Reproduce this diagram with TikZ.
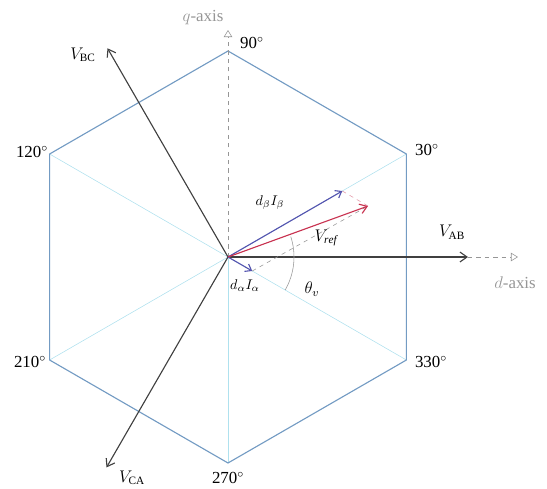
\documentclass[tikz,border=0pt]{standalone}
\usepackage{amsmath,amssymb}
\usepackage{fontspec}
\setmainfont{Liberation Serif}
\usetikzlibrary{arrows.meta}

\definecolor{hexblue}{RGB}{115,155,195}
\definecolor{spoke}{RGB}{175,225,238}
\definecolor{axisgray}{RGB}{150,150,150}
\definecolor{refred}{RGB}{200,50,80}
\definecolor{dvec}{RGB}{85,85,175}

\tikzset{
  vec/.style={draw=black!75, thick, -{Straight Barb[length=5pt,width=7pt]}},
  axisline/.style={draw=axisgray, dashed, -{Triangle[open,length=5pt,width=6pt]}},
  lbl/.style={inner sep=1pt, font=\large}
}

\begin{document}
\begin{tikzpicture}[x=0.025cm, y=0.025cm]
    \useasboundingbox (-228,-231) rectangle (319,257);

    \coordinate (O) at (0,0);
    \foreach \a/\n in {30/h30, 90/h90, 150/h150, 210/h210, 270/h270, 330/h330}
        \coordinate (\n) at (\a:206);

    \draw[spoke, thin] (h30) -- (h210);
    \draw[spoke, thin] (h150) -- (h330);
    \draw[spoke, thin] (O) -- (h270);
    \draw[hexblue, thick] (h30) -- (h90) -- (h150) -- (h210) -- (h270) -- (h330) -- cycle;

    \coordinate (qtip) at (0,227);
    \coordinate (vab) at (0:240);
    \coordinate (dtip) at (0:290);
    \coordinate (vbc) at (120:241);
    \coordinate (vca) at (240:243);
    \coordinate (vref) at (20:149);
    \coordinate (dbeta) at (30:132);
    \coordinate (dalpha) at (-30:28);

    \draw[axisline] (O) -- (qtip);
    \draw[axisline] (vab) -- (dtip);
    \draw[vec] (O) -- (vab);
    \draw[vec] (O) -- (vbc);
    \draw[vec] (O) -- (vca);

    \draw[refred!50, dashed] (dbeta) -- (vref);
    \draw[axisgray, dashed] (dalpha) -- (vref);
    \draw[axisgray] (18:66) arc (18:-30:66);
    \draw[dvec, thick, -{Straight Barb[length=4pt,width=6pt]}] (O) -- (dbeta);
    \draw[dvec, thick, -{Straight Barb[length=4pt,width=6pt]}] (O) -- (dalpha);
    \draw[refred, thick, -{Straight Barb[length=5pt,width=7pt]}] (O) -- (vref);

    \node[lbl] (l90) at (24,214) {90$^\circ$};
    \node[lbl] (l30) at (199,107) {30$^\circ$};
    \node[lbl] (l120) at (-196,105) {120$^\circ$};
    \node[lbl] (l210) at (-198,-105) {210$^\circ$};
    \node[lbl] (l330) at (203,-105) {330$^\circ$};
    \node[lbl] (l270) at (0,-221) {270$^\circ$};
    \node[lbl, text=axisgray] (qlabel) at (-25,239) {$q$-axis};
    \node[lbl, text=axisgray] (dlabel) at (287,-26) {$d$-axis};
    \node[lbl] (lbc) at (-145,202) {$V_{\mathrm{BC}}$};
    \node[lbl] (lca) at (-96,-221) {$V_{\mathrm{CA}}$};
    \node[lbl] (lab) at (224,25) {$V_{\mathrm{AB}}$};
    \node[lbl] (lref) at (98,19) {$V_{\mathit{ref}}$};
    \node[lbl] (ltheta) at (84,-32) {$\theta_v$};
    \node[lbl, font=\normalsize] (lalpha) at (17,-29) {$d_\alpha I_\alpha$};
    \node[lbl, font=\normalsize] (lbeta) at (42,54) {$d_\beta I_\beta$};
\end{tikzpicture}
\end{document}
